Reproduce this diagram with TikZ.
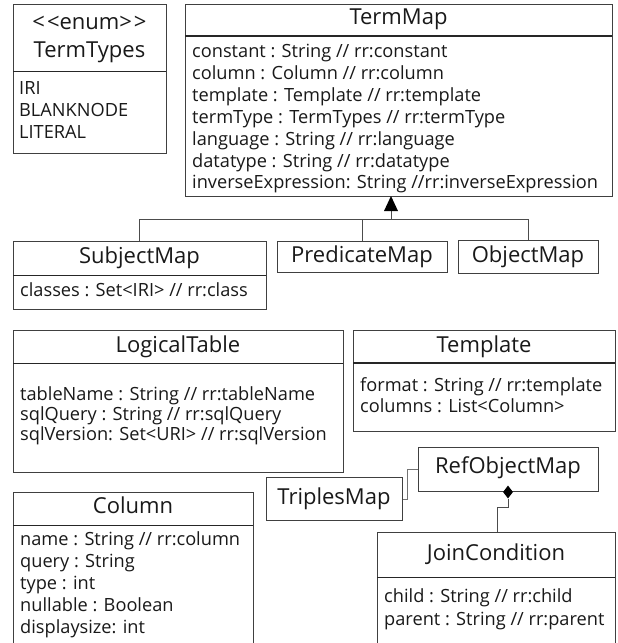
\documentclass[tikz,border=0pt]{standalone}
\usepackage{fontspec}
\setmainfont{Open Sans}
\usetikzlibrary{shapes.geometric}
\begin{document}
\begin{tikzpicture}[x=1pt,y=-1pt,
  box/.style={draw=black!75,line width=0.8pt,anchor=north west,inner sep=0pt,fill=white},
  ttl/.style={inner sep=0pt,font=\fontsize{22}{26}\selectfont,text=black!90,text height=16pt,text depth=5pt},
  att/.style={anchor=west,inner sep=0pt,font=\fontsize{18.2}{21}\selectfont,text=black!90,text height=13pt,text depth=4pt},
  sep/.style={draw=black!85,line width=0.9pt},
  conn/.style={draw=black!70,line width=0.8pt},
  diam/.style={diamond,fill=black,inner sep=0pt,minimum width=10pt,minimum height=13pt}]
\useasboundingbox (0,0) rectangle (618,643);
\clip (0,0) rectangle (618,643);
% ---------- TermTypes
\node[box,minimum width=153pt,minimum height=149pt] (tt) at (13,4) {};
\draw[sep] (13,71) -- (166,71);
\node[ttl] (tt1) at (89.5,24) {<\kern2pt{}<enum>\kern2pt{}>};
\node[ttl] (tt2) at (89.5,52) {TermTypes};
\node[att] (tta) at (19,90) {IRI};
\node[att] (ttb) at (19,112) {BLANKNODE};
\node[att] (ttc) at (19,134) {LITERAL};
% ---------- TermMap
\node[box,minimum width=427pt,minimum height=192pt] (tm) at (185,4) {};
\draw[sep,line width=1.4pt] (185,36) -- (612,36);
\node[ttl] (tmt) at (398.5,19) {TermMap};
\node[att] (tm1) at (192,53) {constant : String // rr:constant};
\node[att] (tm2) at (192,75) {column : Column // rr:column};
\node[att] (tm3) at (192,97) {template : Template // rr:template};
\node[att] (tm4) at (192,119) {termType : TermTypes // rr:termType};
\node[att] (tm5) at (192,141) {language : String // rr:language};
\node[att] (tm6) at (192,163) {datatype : String // rr:datatype};
\node[att] (tm7) at (192,184) {inverseExpression: String //rr:inverseExpression};
% ---------- subclasses
\node[box,minimum width=253pt,minimum height=68pt] (sm) at (13,241) {};
\draw[sep] (13,275) -- (266,275);
\node[ttl] (smt) at (139.5,258) {SubjectMap};
\node[att] (sm1) at (20,292) {classes : Set<IRI> // rr:class};
\node[box,minimum width=170pt,minimum height=31pt] (pm) at (277,241) {};
\node[ttl] (pmt) at (362,257) {PredicateMap};
\node[box,minimum width=140pt,minimum height=33pt] (om) at (458,240) {};
\node[ttl] (omt) at (528,257) {ObjectMap};
% generalization
\coordinate (ga) at (391,196);
\coordinate (gb) at (391,211);
\coordinate (gj) at (391,219);
\coordinate (gs) at (139,219);
\coordinate (gp) at (362,219);
\coordinate (go) at (528,219);
\draw[conn] (gs) -- (go);
\draw[conn] (gb) -- (gj);
\draw[conn] (gs) -- (gs |- sm.north);
\draw[conn] (gp) -- (gp |- pm.north);
\draw[conn] (go) -- (go |- om.north);
\fill[black] (ga) -- (384,211) -- (398,211) -- cycle;
% ---------- LogicalTable
\node[box,minimum width=330pt,minimum height=142pt] (lt) at (13,330) {};
\draw[sep] (13,363) -- (343,363);
\node[ttl] (ltt) at (178,347) {LogicalTable};
\node[att] (lt1) at (20,396) {tableName : String // rr:tableName};
\node[att] (lt2) at (20,416) {sqlQuery : String // rr:sqlQuery};
\node[att] (lt3) at (20,436) {sqlVersion: Set<URI> // rr:sqlVersion};
% ---------- Template
\node[box,minimum width=262pt,minimum height=101pt] (tp) at (353,330) {};
\draw[sep,line width=1.4pt] (353,363) -- (615,363);
\node[ttl] (tpt) at (484,347) {Template};
\node[att] (tp1) at (360,387) {format : String // rr:template};
\node[att] (tp2) at (360,408) {columns : List<Column>};
% ---------- Column
\node[box,minimum width=240pt,minimum height=155pt] (co) at (13,492) {};
\draw[sep] (13,525) -- (253,525);
\node[ttl] (cot) at (133,508) {Column};
\node[att] (co1) at (20,541) {name : String // rr:column};
\node[att] (co2) at (20,563) {query : String};
\node[att] (co3) at (20,585) {type : int};
\node[att] (co4) at (20,607) {nullable : Boolean};
\node[att] (co5) at (20,629) {displaysize: int};
% ---------- TriplesMap / RefObjectMap / JoinCondition
\node[box,minimum width=136pt,minimum height=43pt] (trm) at (266,477) {};
\node[ttl] (trmt) at (334,498.5) {TriplesMap};
\node[box,minimum width=180pt,minimum height=44pt] (rom) at (418,447) {};
\node[ttl] (romt) at (508,468) {RefObjectMap};
\node[box,minimum width=238pt,minimum height=115pt] (jc) at (377,532) {};
\draw[sep] (377,577) -- (615,577);
\node[ttl] (jct) at (496,555) {JoinCondition};
\node[att] (jc1) at (384,598) {child : String // rr:child};
\node[att] (jc2) at (384,621) {parent : String // rr:parent};
% connectors
\coordinate (t1) at (407,499);
\coordinate (t2) at (407,469);
\draw[conn,draw=black!55] (trm.east |- t1) -- (t1) -- (t2) -- (t2 -| rom.west);
\node[diam] (dm) at (508,492) {};
\coordinate (d1) at (508,507);
\coordinate (d2) at (497,507);
\draw[conn] (dm.south) -- (d1) -- (d2) -- (d2 |- jc.north);
\end{tikzpicture}
\end{document}
